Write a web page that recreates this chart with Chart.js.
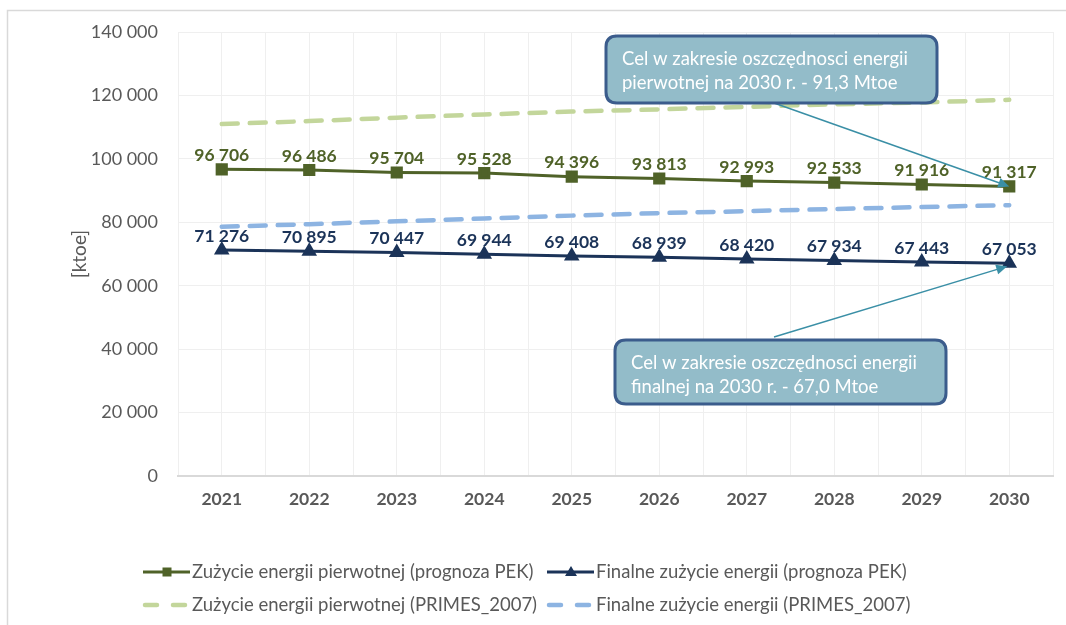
<!DOCTYPE html>
<html>
<head>
<meta charset="utf-8">
<script src="https://cdn.jsdelivr.net/npm/chart.js@4/dist/chart.umd.min.js"></script>
<style>
  html, body { margin: 0; padding: 0; background: #fff; }
  #wrap { width: 1066px; height: 625px; }
</style>
</head>
<body>
<div id="wrap"><canvas id="energyChart" width="1066" height="625"></canvas></div>
<script>
// --- dane ---
const years = [2021, 2022, 2023, 2024, 2025, 2026, 2027, 2028, 2029, 2030];
const pierwotnaPEK = [96706, 96486, 95704, 95528, 94396, 93813, 92993, 92533, 91916, 91317];
const finalnaPEK = [71276, 70895, 70447, 69944, 69408, 68939, 68420, 67934, 67443, 67053];
const pierwotnaPRIMES = [111000, 111900, 113000, 114000, 114900, 115600, 116400, 117200, 117800, 118600];
const finalnaPRIMES = [78600, 79400, 80300, 81200, 82100, 82900, 83500, 84200, 84800, 85400];
const yTicks = [0, 20000, 40000, 60000, 80000, 100000, 120000, 140000];

const seriesLabels = [
    'Zużycie energii pierwotnej (prognoza PEK)',
    'Finalne zużycie energii (prognoza PEK)',
    'Zużycie energii pierwotnej (PRIMES_2007)',
    'Finalne zużycie energii (PRIMES_2007)'
];
const calloutPrimary = ['Cel w zakresie oszczędnosci energii', 'pierwotnej na 2030 r. - 91,3 Mtoe'];
const calloutFinal = ['Cel w zakresie oszczędnosci energii', 'finalnej na 2030 r. - 67,0 Mtoe'];

const FONT = 'Lato, "Open Sans", sans-serif';
const GREY = '#595959';
const OLIVE = '#4F6228';
const NAVY = '#1B3358';
const LIGHT_GREEN = '#C3D69B';
const LIGHT_BLUE = '#8DB4E2';
const ARROW = '#3A8FA6';

function fmt(v) {
    return String(Math.round(v)).replace(/\B(?=(\d{3})+(?!\d))/g, ' ');
}
function pts(arr) {
    return years.map((yr, i) => ({ x: yr, y: arr[i] }));
}

// white background + light frame
const backgroundPlugin = {
    id: 'bg',
    beforeDraw(chart) {
        const ctx = chart.ctx;
        ctx.save();
        ctx.fillStyle = '#fff';
        ctx.fillRect(0, 0, chart.width, chart.height);
        ctx.strokeStyle = '#D9D9D9';
        ctx.lineWidth = 1.5;
        ctx.strokeRect(7.5, 10.5, chart.width + 20, chart.height + 20);
        ctx.restore();
    }
};

// etykiety danych nad punktami
const dataLabelsPlugin = {
    id: 'valueLabels',
    afterDatasetsDraw(chart) {
        const ctx = chart.ctx;
        ctx.save();
        ctx.font = 'bold 17.5px ' + FONT;
        ctx.textAlign = 'center';
        ctx.textBaseline = 'middle';
        [0, 1].forEach(di => {
            const meta = chart.getDatasetMeta(di);
            const ds = chart.data.datasets[di];
            ctx.fillStyle = ds.borderColor;
            meta.data.forEach((el, i) => {
                ctx.fillText(fmt(ds.data[i].y), el.x, el.y - 14);
            });
        });
        ctx.restore();
    }
};

function roundRect(ctx, x, y, w, h, r) {
    ctx.beginPath();
    ctx.moveTo(x + r, y);
    ctx.lineTo(x + w - r, y);
    ctx.quadraticCurveTo(x + w, y, x + w, y + r);
    ctx.lineTo(x + w, y + h - r);
    ctx.quadraticCurveTo(x + w, y + h, x + w - r, y + h);
    ctx.lineTo(x + r, y + h);
    ctx.quadraticCurveTo(x, y + h, x, y + h - r);
    ctx.lineTo(x, y + r);
    ctx.quadraticCurveTo(x, y, x + r, y);
    ctx.closePath();
}

function drawArrow(ctx, x1, y1, x2, y2) {
    const ang = Math.atan2(y2 - y1, x2 - x1);
    const len = 11;
    ctx.strokeStyle = ARROW;
    ctx.fillStyle = ARROW;
    ctx.lineWidth = 1.5;
    ctx.beginPath();
    ctx.moveTo(x1, y1);
    ctx.lineTo(x2 - Math.cos(ang) * len * 0.8, y2 - Math.sin(ang) * len * 0.8);
    ctx.stroke();
    ctx.beginPath();
    ctx.moveTo(x2, y2);
    ctx.lineTo(x2 - len * Math.cos(ang) + 5 * Math.sin(ang), y2 - len * Math.sin(ang) - 5 * Math.cos(ang));
    ctx.lineTo(x2 - len * Math.cos(ang) - 5 * Math.sin(ang), y2 - len * Math.sin(ang) + 5 * Math.cos(ang));
    ctx.closePath();
    ctx.fill();
}

function drawCallout(ctx, box, lines) {
    roundRect(ctx, box.x, box.y, box.w, box.h, 11);
    ctx.fillStyle = '#93BCC9';
    ctx.fill();
    ctx.strokeStyle = '#3B5C8C';
    ctx.lineWidth = 3;
    ctx.stroke();
    ctx.fillStyle = '#fff';
    ctx.font = '18.5px ' + FONT;
    ctx.textAlign = 'left';
    ctx.textBaseline = 'middle';
    ctx.fillText(lines[0], box.x + 16, box.y + 23);
    ctx.fillText(lines[1], box.x + 16, box.y + 47);
}

// objaśnienia ze strzałkami
const calloutPlugin = {
    id: 'callouts',
    afterDraw(chart) {
        const ctx = chart.ctx;
        const last = years.length - 1;
        const pPrim = chart.getDatasetMeta(0).data[last];
        const pFin = chart.getDatasetMeta(1).data[last];
        const box1 = { x: 606, y: 36, w: 331, h: 67 };
        const box2 = { x: 615, y: 340, w: 331, h: 64 };
        ctx.save();
        drawArrow(ctx, box1.x + 168, box1.y + box1.h, pPrim.x, pPrim.y);
        drawArrow(ctx, box2.x + 159, box2.y - 3, pFin.x - 2, pFin.y + 3);
        drawCallout(ctx, box1, calloutPrimary);
        drawCallout(ctx, box2, calloutFinal);
        ctx.restore();
    }
};

// legenda w dwóch kolumnach
const legendPlugin = {
    id: 'customLegend',
    afterDraw(chart) {
        const ctx = chart.ctx;
        const cols = [143, 547];
        const rows = [572, 605];
        ctx.save();
        chart.data.datasets.forEach((ds, i) => {
            const x = cols[i % 2];
            const y = rows[Math.floor(i / 2)];
            const dashed = ds.borderDash.length > 0;
            ctx.strokeStyle = ds.borderColor;
            ctx.lineWidth = dashed ? 4.5 : 3;
            ctx.lineCap = dashed ? 'round' : 'butt';
            ctx.setLineDash(dashed ? [12, 16] : []);
            ctx.beginPath();
            ctx.moveTo(x + (dashed ? 2 : 0), y);
            ctx.lineTo(x + 47, y);
            ctx.stroke();
            ctx.setLineDash([]);
            if (ds.pointRadius > 0) {
                ctx.fillStyle = ds.borderColor;
                ctx.beginPath();
                if (ds.pointStyle === 'rect') {
                    ctx.rect(x + 24 - 4.5, y - 4.5, 9, 9);
                } else {
                    ctx.moveTo(x + 24, y - 6);
                    ctx.lineTo(x + 30, y + 4);
                    ctx.lineTo(x + 18, y + 4);
                    ctx.closePath();
                }
                ctx.fill();
            }
            ctx.fillStyle = GREY;
            ctx.font = '18.5px ' + FONT;
            ctx.textAlign = 'left';
            ctx.textBaseline = 'middle';
            ctx.fillText(seriesLabels[i], x + 49, y);
        });
        ctx.restore();
    }
};

const ctx = document.getElementById('energyChart').getContext('2d');
const chart = new Chart(ctx, {
    type: 'line',
    data: {
        datasets: [
            { label: seriesLabels[0], data: pts(pierwotnaPEK), borderColor: OLIVE, backgroundColor: OLIVE, borderWidth: 3, borderDash: [], pointStyle: 'rect', pointRadius: 6.5, pointHoverRadius: 6.5, tension: 0, order: 1 },
            { label: seriesLabels[1], data: pts(finalnaPEK), borderColor: NAVY, backgroundColor: NAVY, borderWidth: 3, borderDash: [], pointStyle: 'triangle', pointRadius: 6, pointHoverRadius: 6, tension: 0, order: 2 },
            { label: seriesLabels[2], data: pts(pierwotnaPRIMES), borderColor: LIGHT_GREEN, backgroundColor: LIGHT_GREEN, borderWidth: 4.5, borderDash: [16, 12], borderCapStyle: 'round', pointRadius: 0, tension: 0, order: 3 },
            { label: seriesLabels[3], data: pts(finalnaPRIMES), borderColor: LIGHT_BLUE, backgroundColor: LIGHT_BLUE, borderWidth: 4.5, borderDash: [16, 12], borderCapStyle: 'round', pointRadius: 0, tension: 0, order: 4 }
        ]
    },
    options: {
        responsive: false,
        animation: false,
        events: [],
        layout: { padding: { left: 0, right: 12, top: 32, bottom: 99 } },
        plugins: {
            legend: { display: false },
            tooltip: { enabled: false }
        },
        scales: {
            x: {
                type: 'linear',
                min: years[0] - 0.5,
                max: years[years.length - 1] + 0.5,
                afterBuildTicks: s => { s.ticks = []; for (let v = s.min; v <= s.max + 1e-9; v += 0.5) s.ticks.push({ value: v }); },
                ticks: {
                    autoSkip: false,
                    maxRotation: 0,
                    padding: 13,
                    color: GREY,
                    font: { family: FONT, size: 17.5, weight: 'bold' },
                    callback: v => Number.isInteger(v) ? String(v) : ''
                },
                grid: { color: '#EFEFEF', lineWidth: 1, drawTicks: false },
                border: { display: true, color: '#D9D9D9', width: 2 },
                afterFit: s => { s.height = 50; }
            },
            y: {
                min: 0,
                max: 140000,
                afterBuildTicks: s => { s.ticks = yTicks.map(v => ({ value: v })); },
                ticks: {
                    padding: 20,
                    color: GREY,
                    font: { family: FONT, size: 18 },
                    callback: v => fmt(v)
                },
                grid: { color: '#EFEFEF', lineWidth: 1, drawTicks: false },
                border: { display: false },
                title: {
                    display: true,
                    text: '[ktoe]',
                    color: GREY,
                    font: { family: FONT, size: 19 },
                    padding: { top: 68, bottom: 0 }
                },
                afterFit: s => { s.width = 178; }
            }
        }
    },
    plugins: [backgroundPlugin, dataLabelsPlugin, calloutPlugin, legendPlugin]
});
</script>
</body>
</html>
